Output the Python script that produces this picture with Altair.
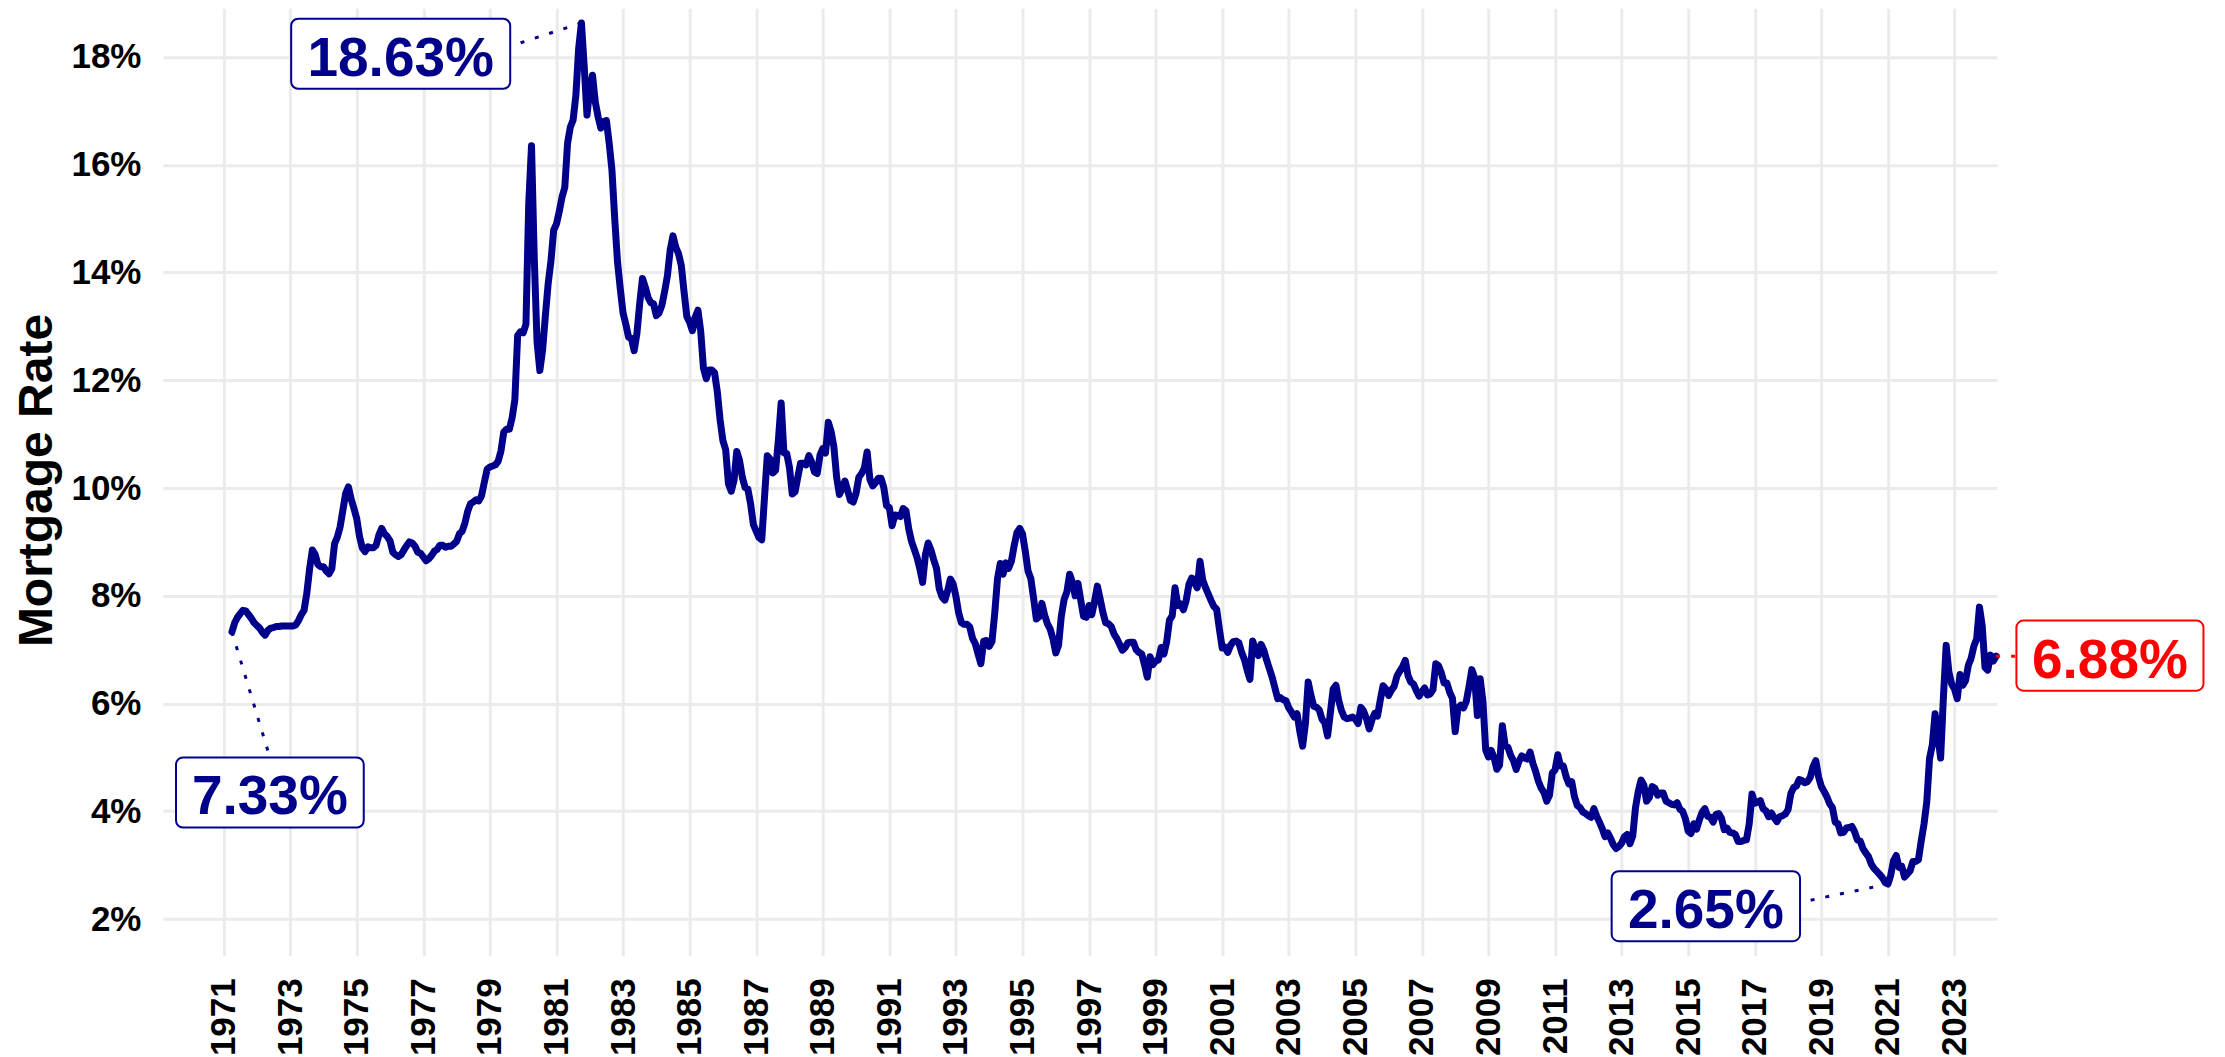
import altair as alt
import pandas as pd

FONT = "Liberation Sans"
NAVY = "#00008B"
RED = "#FF0000"

# Monthly 30-year mortgage rate (%).
# Apr 1971 - Dec 1979
rates_1971_1979 = [
    7.33, 7.50, 7.60, 7.67, 7.73, 7.72, 7.65, 7.58, 7.50,
    7.45, 7.40, 7.32, 7.27, 7.36, 7.40, 7.41, 7.43, 7.43, 7.44, 7.44, 7.44,
    7.44, 7.44, 7.46, 7.54, 7.65, 7.73, 8.05, 8.50, 8.85, 8.77, 8.58, 8.54,
    8.54, 8.46, 8.41, 8.50, 8.97, 9.09, 9.28, 9.59, 9.90, 10.02, 9.79, 9.62,
    9.43, 9.10, 8.89, 8.82, 8.91, 8.89, 8.89, 8.94, 9.13, 9.25, 9.15, 9.10,
    9.02, 8.81, 8.76, 8.73, 8.76, 8.85, 8.93, 9.00, 8.98, 8.92, 8.81, 8.79,
    8.72, 8.65, 8.69, 8.75, 8.83, 8.86, 8.94, 8.94, 8.90, 8.92, 8.92, 8.96,
    9.01, 9.15, 9.20, 9.35, 9.57, 9.71, 9.74, 9.78, 9.76, 9.86, 10.11, 10.35,
    10.39, 10.41, 10.43, 10.50, 10.69, 11.04, 11.09, 11.09, 11.30, 11.64, 12.83, 12.90,
]
# Jan 1980 - Dec 1989
rates_1980s = [
    12.88, 13.04, 15.28, 16.35, 14.26, 12.71, 12.18, 12.56, 13.20, 13.79, 14.21, 14.79,
    14.90, 15.13, 15.40, 15.58, 16.40, 16.70, 16.83, 17.29, 18.16, 18.63, 17.83, 16.92,
    17.40, 17.66, 17.16, 16.89, 16.68, 16.80, 16.82, 16.40, 15.90, 15.00, 14.20, 13.70,
    13.25, 13.04, 12.80, 12.78, 12.55, 12.87, 13.42, 13.89, 13.73, 13.54, 13.44, 13.42,
    13.20, 13.25, 13.39, 13.65, 13.94, 14.42, 14.68, 14.47, 14.35, 14.13, 13.64, 13.18,
    13.08, 12.92, 13.17, 13.30, 12.91, 12.22, 12.03, 12.19, 12.19, 12.14, 11.78, 11.26,
    10.88, 10.71, 10.08, 9.94, 10.14, 10.68, 10.51, 10.20, 10.01, 9.98, 9.70, 9.32,
    9.20, 9.08, 9.04, 9.83, 10.60, 10.54, 10.28, 10.33, 10.89, 11.58, 10.65, 10.64,
    10.38, 9.89, 9.93, 10.20, 10.46, 10.46, 10.43, 10.60, 10.48, 10.30, 10.27, 10.61,
    10.73, 10.65, 11.22, 11.05, 10.77, 10.20, 9.88, 9.99, 10.13, 9.95, 9.77, 9.74,
]
# Jan 1990 - Dec 1999
rates_1990s = [
    9.90, 10.20, 10.27, 10.37, 10.67, 10.16, 10.04, 10.10, 10.18, 10.18, 10.01, 9.67,
    9.64, 9.30, 9.50, 9.49, 9.47, 9.62, 9.58, 9.24, 9.01, 8.86, 8.71, 8.50,
    8.25, 8.76, 8.98, 8.85, 8.67, 8.51, 8.13, 7.98, 7.92, 8.09, 8.31, 8.22,
    7.99, 7.68, 7.50, 7.47, 7.47, 7.42, 7.21, 7.11, 6.92, 6.74, 7.16, 7.17,
    7.06, 7.15, 7.68, 8.32, 8.60, 8.40, 8.61, 8.51, 8.64, 8.93, 9.17, 9.25,
    9.15, 8.83, 8.46, 8.32, 7.96, 7.57, 7.61, 7.86, 7.64, 7.48, 7.38, 7.20,
    6.94, 7.08, 7.62, 7.93, 8.07, 8.40, 8.25, 8.00, 8.23, 7.92, 7.62, 7.60,
    7.82, 7.65, 7.90, 8.18, 7.94, 7.69, 7.50, 7.48, 7.43, 7.29, 7.21, 7.10,
    6.99, 7.04, 7.13, 7.14, 7.14, 7.00, 6.95, 6.92, 6.72, 6.49, 6.87, 6.72,
    6.79, 6.81, 7.04, 6.92, 7.15, 7.55, 7.63, 8.15, 7.82, 7.85, 7.74, 7.91,
]
# Jan 2000 - Dec 2009
rates_2000s = [
    8.21, 8.33, 8.24, 8.15, 8.64, 8.29, 8.15, 8.03, 7.91, 7.80, 7.75, 7.38,
    7.03, 7.05, 6.95, 7.08, 7.15, 7.16, 7.13, 6.95, 6.82, 6.62, 6.45, 7.16,
    7.00, 6.89, 7.10, 6.99, 6.81, 6.65, 6.49, 6.29, 6.09, 6.11, 6.07, 6.05,
    5.92, 5.84, 5.75, 5.81, 5.48, 5.21, 5.63, 6.40, 6.15, 5.95, 5.93, 5.88,
    5.71, 5.64, 5.40, 5.83, 6.27, 6.34, 6.06, 5.87, 5.75, 5.72, 5.73, 5.75,
    5.71, 5.63, 5.93, 5.86, 5.72, 5.53, 5.70, 5.82, 5.77, 6.07, 6.33, 6.27,
    6.15, 6.25, 6.32, 6.51, 6.60, 6.68, 6.80, 6.52, 6.40, 6.36, 6.24, 6.14,
    6.22, 6.29, 6.16, 6.18, 6.26, 6.74, 6.70, 6.57, 6.38, 6.38, 6.21, 6.10,
    5.48, 5.92, 5.97, 5.92, 6.04, 6.32, 6.63, 6.48, 5.78, 6.46, 6.04, 5.14,
    5.01, 5.13, 5.00, 4.78, 4.86, 5.59, 5.22, 5.19, 5.04, 4.94, 4.78, 4.93,
]
# Jan 2010 - Dec 2019
rates_2010s = [
    5.03, 4.99, 4.97, 5.10, 4.89, 4.74, 4.56, 4.43, 4.35, 4.19, 4.30, 4.71,
    4.77, 5.05, 4.84, 4.84, 4.64, 4.51, 4.55, 4.27, 4.11, 4.07, 3.99, 3.96,
    3.92, 3.89, 4.05, 3.91, 3.80, 3.68, 3.53, 3.60, 3.50, 3.38, 3.31, 3.35,
    3.41, 3.53, 3.57, 3.40, 3.54, 4.07, 4.37, 4.58, 4.49, 4.19, 4.26, 4.46,
    4.43, 4.30, 4.34, 4.34, 4.19, 4.16, 4.13, 4.12, 4.16, 4.04, 4.00, 3.86,
    3.63, 3.59, 3.77, 3.67, 3.84, 3.98, 4.05, 3.91, 3.89, 3.80, 3.94, 3.96,
    3.87, 3.66, 3.69, 3.61, 3.60, 3.57, 3.44, 3.44, 3.46, 3.47, 3.77, 4.32,
    4.15, 4.17, 4.20, 4.05, 4.01, 3.90, 3.97, 3.88, 3.81, 3.90, 3.92, 3.95,
    4.03, 4.33, 4.44, 4.47, 4.59, 4.57, 4.53, 4.55, 4.63, 4.83, 4.94, 4.64,
    4.46, 4.37, 4.27, 4.14, 4.07, 3.80, 3.77, 3.60, 3.61, 3.69, 3.70, 3.72,
]
# Jan 2020 - Apr 2024
rates_2020s = [
    3.62, 3.47, 3.45, 3.31, 3.23, 3.16, 3.02, 2.94, 2.89, 2.83, 2.77, 2.68,
    2.65, 2.81, 3.08, 3.18, 2.96, 2.98, 2.78, 2.84, 2.90, 3.07, 3.07, 3.10,
    3.45, 3.76, 4.17, 4.98, 5.23, 5.81, 5.41, 4.99, 6.11, 7.08, 6.58, 6.36,
    6.27, 6.09, 6.54, 6.34, 6.43, 6.71, 6.84, 7.07, 7.20, 7.79, 7.44, 6.67,
    6.62, 6.90, 6.79, 6.88,
]

segments = [
    (1971, 4, rates_1971_1979),
    (1980, 1, rates_1980s),
    (1990, 1, rates_1990s),
    (2000, 1, rates_2000s),
    (2010, 1, rates_2010s),
    (2020, 1, rates_2020s),
]

rows = []
for y0, m0, vals in segments:
    yy, mm = y0, m0
    for v in vals:
        rows.append({"t": yy + (mm - 1) / 12.0, "rate": v})
        mm += 1
        if mm > 12:
            mm = 1
            yy += 1
df = pd.DataFrame(rows)

# Annotated points: first, highest, lowest, latest
idx = [0, int(df["rate"].idxmax()), int(df["rate"].idxmin()), len(df) - 1]
ann_colors = [NAVY, NAVY, NAVY, RED]
# label box centres (year, %) and half sizes
box_x = [1972.39, 1976.32, 2015.53, 2027.67]
box_y = [4.35, 18.06, 2.24, 6.89]
box_half_w = [2.82, 3.29, 2.83, 2.81]
box_half_h = 0.65
# where each dotted connector meets its box
seg_end_x = [1972.39, 1979.61, 2018.36, 2024.86]
seg_end_y = [5.00, 18.20, 2.31, 6.88]

ann = pd.DataFrame({
    "px": [df["t"][i] for i in idx],
    "py": [df["rate"][i] for i in idx],
    "label": [f"{df['rate'][i]:.2f}%" for i in idx],
    "col": ann_colors,
    "bx": box_x,
    "by": box_y,
    "x1": [c - h for c, h in zip(box_x, box_half_w)],
    "x2": [c + h for c, h in zip(box_x, box_half_w)],
    "y1": [c - box_half_h for c in box_y],
    "y2": [c + box_half_h for c in box_y],
    "ex": seg_end_x,
    "ey": seg_end_y,
})

xscale = alt.Scale(domain=[1969.177, 2024.28], nice=False, zero=False)
yscale = alt.Scale(domain=[1.319, 18.904], nice=False, zero=False)

xaxis = alt.Axis(
    values=list(range(1971, 2024, 2)), format="d", labelAngle=270,
    labelAlign="right", labelBaseline="middle", labelFontSize=35,
    labelPadding=22, title="", grid=True, labelOverlap=False, labelFlush=False,
)
yaxis = alt.Axis(
    values=[2, 4, 6, 8, 10, 12, 14, 16, 18], labelExpr="datum.value + '%'",
    labelFontSize=35, labelPadding=22, title="Mortgage Rate", titleFontSize=48,
    titleAngle=270, titleX=-111, titleY=472, titleAlign="center",
    titleBaseline="alphabetic", grid=True, labelOverlap=False, labelFlush=False,
)

line = alt.Chart(df).mark_line(
    color=NAVY, strokeWidth=7, strokeJoin="round", strokeCap="round"
).encode(
    x=alt.X("t:Q", scale=xscale, axis=xaxis),
    y=alt.Y("rate:Q", scale=yscale, axis=yaxis),
)

connectors = alt.Chart(ann).mark_rule(
    strokeWidth=3, strokeDash=[4, 11], clip=False
).encode(
    x=alt.X("px:Q", scale=xscale, axis=xaxis),
    y=alt.Y("py:Q", scale=yscale, axis=yaxis),
    x2="ex:Q",
    y2="ey:Q",
    color=alt.Color("col:N", scale=None),
)

boxes = alt.Chart(ann).mark_rect(
    fill="white", strokeWidth=2, cornerRadius=7, clip=False
).encode(
    x=alt.X("x1:Q", scale=xscale, axis=xaxis),
    x2="x2:Q",
    y=alt.Y("y1:Q", scale=yscale, axis=yaxis),
    y2="y2:Q",
    stroke=alt.Stroke("col:N", scale=None),
)

texts = alt.Chart(ann).mark_text(
    font=FONT, fontSize=55, fontWeight="bold", align="center",
    baseline="middle", dy=5, clip=False
).encode(
    x=alt.X("bx:Q", scale=xscale, axis=xaxis),
    y=alt.Y("by:Q", scale=yscale, axis=yaxis),
    text="label:N",
    color=alt.Color("col:N", scale=None),
)

chart = alt.layer(line, connectors, boxes, texts).properties(
    width=1835,
    height=948,
    autosize=alt.AutoSizeParams(type="none"),
    padding={"left": 155, "top": 0, "right": 220, "bottom": 100},
    background="white",
).configure_axis(
    labelFont=FONT, labelFontWeight="bold", labelColor="black",
    titleFont=FONT, titleFontWeight="bold", titleColor="black",
    gridColor="#EBEBEB", gridWidth=3, domain=False, ticks=False, tickSize=0,
).configure_view(strokeWidth=0)

chart.save("out.html", embed_options={"renderer": "svg", "actions": False})
